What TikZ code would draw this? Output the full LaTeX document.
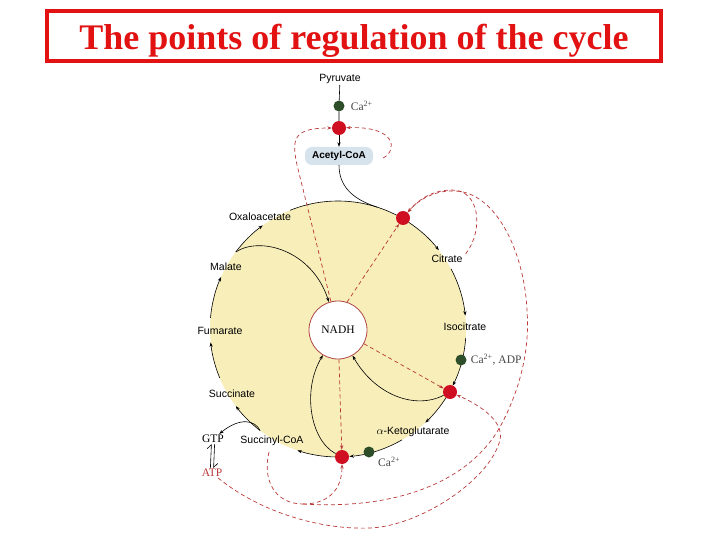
\documentclass[tikz,border=0pt]{standalone}
\usepackage{fontspec}
\setmainfont{Liberation Serif}
\setsansfont{Liberation Sans}
\usepackage{tikz}
\usetikzlibrary{positioning,calc,arrows.meta}
\usepackage{xcolor}
\definecolor{cycfill}{RGB}{248,238,186}
\definecolor{dotred}{RGB}{208,14,34}
\definecolor{dotgreen}{RGB}{46,78,42}
\definecolor{inhred}{RGB}{185,55,55}
\definecolor{nadhred}{RGB}{175,70,70}
\definecolor{titlered}{RGB}{226,18,18}
\definecolor{acoafill}{RGB}{214,226,236}
\definecolor{catext}{RGB}{70,70,70}

\begin{document}
\begin{tikzpicture}[x=1pt,y=1pt, >={Stealth[length=4.5pt,width=3.2pt]},
    lbl/.style={font=\sffamily\fontsize{10.5}{12}\selectfont, inner sep=1pt},
    serlbl/.style={font=\fontsize{11.5}{13}\selectfont, inner sep=1pt},
    reddot/.style={circle, fill=dotred, minimum size=14pt, inner sep=0pt},
    greendot/.style={circle, fill=dotgreen, minimum size=11pt, inner sep=0pt},
    flow/.style={->, line width=0.6pt},
    inhib/.style={->, dash pattern=on 4pt off 3pt, inhred, line width=0.7pt}]
    \useasboundingbox (0,0) rectangle (720,-540);
    % 标题
    \node[draw=titlered, line width=3.5pt, minimum width=614pt, minimum height=50pt] (tbox) at (354,-36) {};
    \node[titlered, font=\bfseries\fontsize{36}{40}\selectfont, anchor=base] (title) at (354,-50) {The points of regulation of the cycle};
    % 循环 (圆盘与外圈箭头)
    \coordinate (c) at (338,-329);
    \fill[cycfill] (c) circle (128);
    \draw[line width=0.6pt] (c) ++(112:128) arc[start angle=112, end angle=62.7, radius=128];
    \foreach \a/\b in {56.5/38, 28/6, -4/-26.3, -32.5/-47, -60/-84.9, -91/-108.5, -127.5/-143, -157.5/-174, -185/-204, -217/-234}
        \draw[flow] (c) ++(\a:128) arc[start angle=\a, end angle=\b, radius=128];
    % 代谢物
    \node[lbl] (pyr) at (340,-79) {Pyruvate};
    \node[greendot] (ca1) at (339,-106) {};
    \node[serlbl, catext, right=5pt of ca1] (ca1l) {Ca\textsuperscript{2+}};
    \node[reddot] (pdh) at (339,-128) {};
    \node[lbl, font=\sffamily\bfseries\fontsize{10}{12}\selectfont, fill=acoafill, rounded corners=7pt, minimum width=68pt, minimum height=18pt] (acoa) at (339,-156) {Acetyl-CoA};
    \node[lbl] (oaa) at (260,-217) {Oxaloacetate};
    \node[lbl] (cit) at (447,-259) {Citrate};
    \node[lbl] (mal) at (226,-267) {Malate};
    \node[lbl] (fum) at (220,-331) {Fumarate};
    \node[lbl] (icit) at (465,-327) {Isocitrate};
    \node[lbl] (succ) at (232,-394) {Succinate};
    \node[lbl] (akg) at (413,-432) {$\alpha$-Ketoglutarate};
    \node[lbl] (scoa) at (272,-441) {Succinyl-CoA};
    \node[serlbl] (gtp) at (213,-439) {GTP};
    \node[serlbl, inhred] (atp) at (212,-473) {ATP};
    % 调节点
    \node[reddot] (cs) at (403,-218) {};
    \node[greendot] (ca2) at (461,-360) {};
    \node[serlbl, catext, right=3pt of ca2] (ca2l) {Ca\textsuperscript{2+}, ADP};
    \node[reddot] (idh) at (450,-392) {};
    \node[greendot] (ca3) at (369,-452) {};
    \node[serlbl, catext, below right=0pt and 4pt of ca3] (ca3l) {Ca\textsuperscript{2+}};
    \node[reddot] (kgdh) at (342,-457) {};
    \node[circle, draw=nadhred, fill=white, line width=0.8pt, minimum size=58pt, font=\fontsize{11.5}{13}\selectfont] (nadh) at (338,-330) {NADH};
    % 黑色箭头
    \draw[line width=0.6pt] (pyr) -- (ca1) -- (pdh);
    \draw[flow] (pdh) -- (acoa);
    \draw[line width=0.6pt] (acoa) .. controls (339,-190) and (358,-201) .. ([shift={(72:128)}]c);
    \draw[flow] ([shift={(-127.5:128)}]c) .. controls (255,-420) and (240,-417) .. (gtp);
    \draw[-{Straight Barb[left,length=4pt]}, line width=0.6pt] ([xshift=-1.6pt]atp.north) -- ([xshift=-1.6pt]gtp.south);
    \draw[-{Straight Barb[left,length=4pt]}, line width=0.6pt] ([xshift=1.6pt]gtp.south) -- ([xshift=1.6pt]atp.north);
    \draw[flow] ([shift={(-217:128)}]c) .. controls (260,-236) and (312,-250) .. (nadh);
    \draw[flow] (idh) .. controls (415,-410) and (375,-395) .. (nadh);
    \draw[flow] (kgdh) .. controls (310,-440) and (302,-390) .. (nadh);
    % 抑制 (虚线)
    \draw[inhib] (nadh.104) -- (297,-165) .. controls (292,-140) and (292,-128) .. (pdh);
    \draw[inhib] ([xshift=10pt,yshift=-2pt]acoa.east) .. controls (398,-150) and (396,-126) .. (pdh);
    \draw[inhib] (nadh.72) -- (cs);
    \draw[inhib] (nadh.-28) -- (idh);
    \draw[inhib] (nadh) -- (kgdh);
    \draw[inhib] ([xshift=2pt]cit.north east) .. controls (484,-230) and (480,-190) .. (452,-190) .. controls (432,-190) and (418,-200) .. (cs);
    % Succinyl-CoA
    \coordinate (sj) at (303,-504);
    \draw[dash pattern=on 4pt off 3pt, inhred, line width=0.7pt] ([xshift=-3pt,yshift=-5pt]scoa.south) .. controls (262,-480) and (275,-504) .. (sj);
    \draw[inhib] (sj) .. controls (328,-504) and (342,-490) .. (kgdh);
    \draw[inhib] (sj) .. controls (400,-510) and (470,-480) .. (500,-427) .. controls (520,-390) and (530,-350) .. (527,-310) .. controls (524,-250) and (495,-192) .. (455,-191) .. controls (435,-190) and (418,-200) .. (cs);
    % ATP
    \draw[inhib] (atp) .. controls (260,-512) and (320,-530) .. (370,-528) .. controls (420,-526) and (490,-480) .. (500,-440) .. controls (504,-422) and (482,-406) .. (idh);
\end{tikzpicture}
\end{document}
